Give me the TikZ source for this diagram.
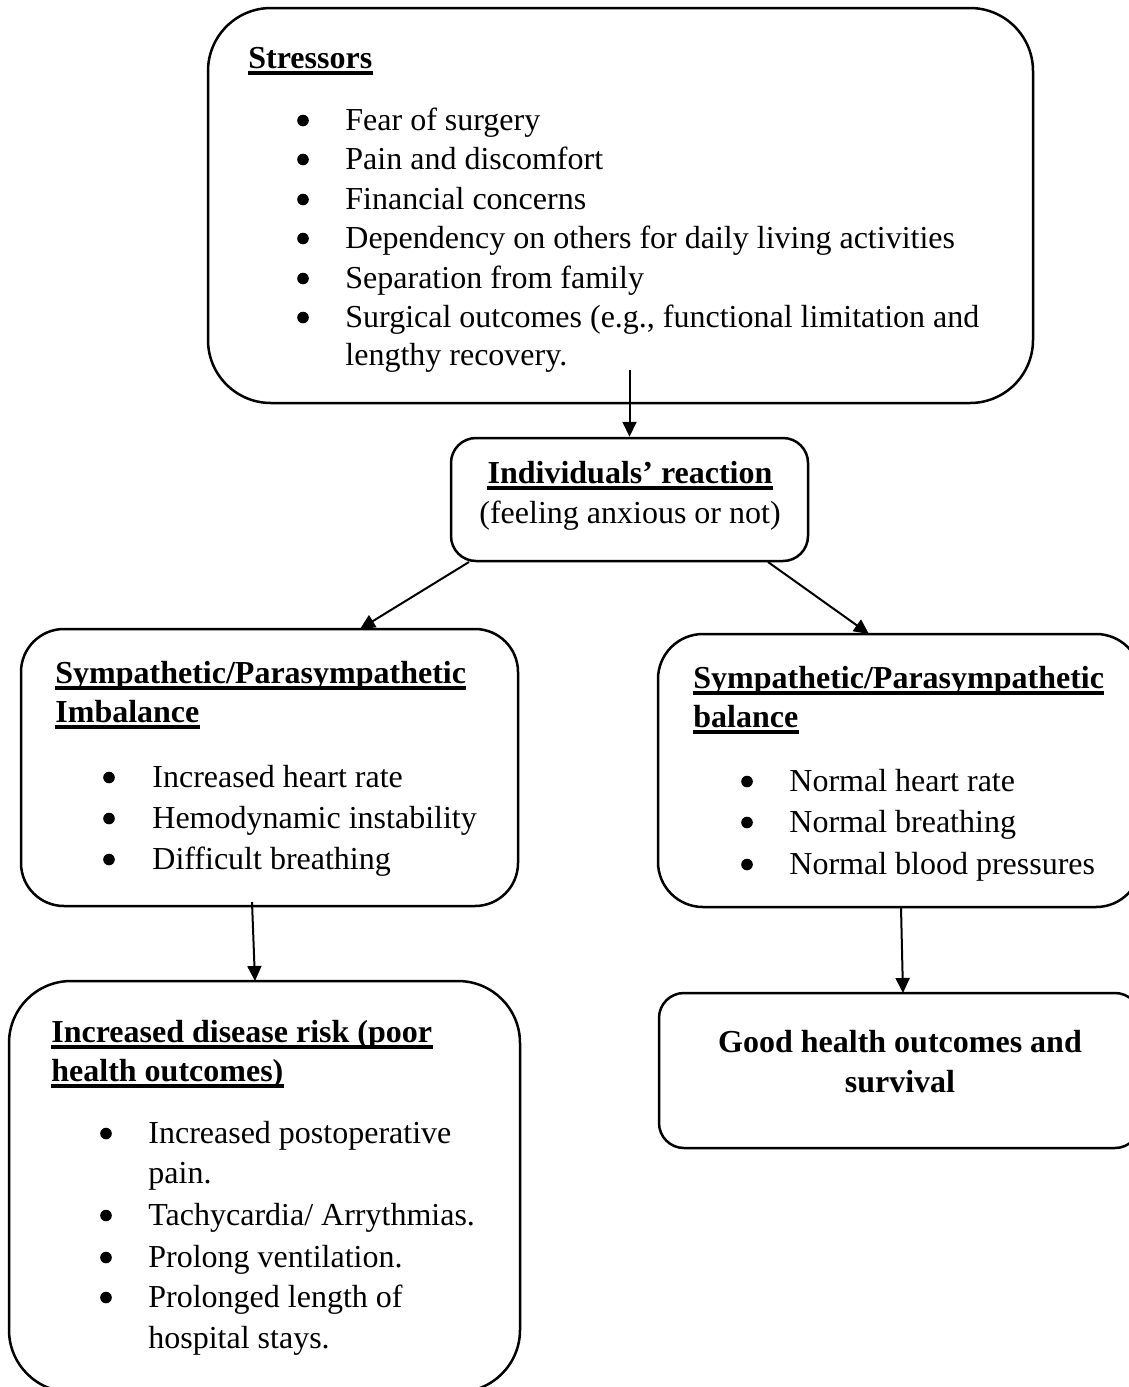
\documentclass[tikz,border=0pt]{standalone}
\usepackage{fontspec}
\setmainfont{Liberation Serif}
\usetikzlibrary{arrows.meta}
\newcommand{\ulnode}[1]{\fill ([yshift=-1.7pt]#1.base west) rectangle ([yshift=-3.7pt]#1.base east);}
\begin{document}
\begin{tikzpicture}[x=0.5pt,y=-0.5pt,
  box/.style={draw, line width=1.25pt, rectangle, inner sep=0pt},
  arr/.style={line width=1pt, -{Triangle[length=7.5pt,width=7pt]}},
  txt/.style={anchor=base west, inner sep=0pt, font=\fontsize{16}{19}\selectfont},
  hdt/.style={anchor=base west, inner sep=0pt, font=\fontsize{16}{19}\selectfont\bfseries},
  ctr/.style={anchor=base, inner sep=0pt, font=\fontsize{16}{19}\selectfont\bfseries},
  ctrn/.style={anchor=base, inner sep=0pt, font=\fontsize{16}{19}\selectfont},
  bul/.style={fill=black}]
\clip (0,0) rectangle (1129,1387);
\fill[white] (0,0) rectangle (1129,1387);

% boxes
\node[box, rounded corners=31.5pt, minimum width=412.5pt, minimum height=197.5pt] (stress) at (620.5,205.5) {};
\node[box, rounded corners=12.5pt, minimum width=178.5pt, minimum height=61.5pt] (react) at (629.5,499.5) {};
\node[box, rounded corners=21.5pt, minimum width=248.5pt, minimum height=138.5pt] (imbal) at (269.5,767.5) {};
\node[box, rounded corners=22.5pt, minimum width=241.5pt, minimum height=136.5pt] (bal) at (899.5,770.5) {};
\node[box, rounded corners=31pt, minimum width=255.5pt, minimum height=205.5pt] (risk) at (264.5,1186.5) {};
\node[box, rounded corners=12.5pt, minimum width=240.5pt, minimum height=77.5pt] (good) at (899.5,1070.5) {};

% Stressors text
\node[hdt] (sh) at (248,68) {Stressors};
\ulnode{sh}
\node[txt] (s1) at (345,130) {Fear of surgery};
\node[txt] (s2) at (345,169) {Pain and discomfort};
\node[txt] (s3) at (345,209) {Financial concerns};
\node[txt] (s4) at (345,248) {Dependency on others for daily living activities};
\node[txt] (s5) at (345,288) {Separation from family};
\node[txt] (s6) at (345,327) {Surgical outcomes (e.g., functional limitation and};
\node[txt] (s7) at (345,365) {lengthy recovery.};
\foreach \yy in {130,169,209,248,288,327} \fill[bul] (303,\yy-9.5) circle (2.9pt);

% Reaction text
\node[ctr] (rh) at (630,483) {Individuals’ reaction};
\ulnode{rh}
\node[ctrn] (rs) at (630,523) {(feeling anxious or not)};

% Imbalance
\node[hdt] (ih1) at (55,683) {Sympathetic/Parasympathetic};
\node[hdt] (ih2) at (55,722) {Imbalance};
\ulnode{ih1}\ulnode{ih2}
\node[txt] (i1) at (152,787) {Increased heart rate};
\node[txt] (i2) at (152,828) {Hemodynamic instability};
\node[txt] (i3) at (152,869) {Difficult breathing};
\foreach \yy in {787,828,869} \fill[bul] (109,\yy-9.5) circle (2.9pt);

% Balance
\node[hdt] (bh1) at (693,688) {Sympathetic/Parasympathetic};
\node[hdt] (bh2) at (693,727) {balance};
\ulnode{bh1}\ulnode{bh2}
\node[txt] (b1) at (789,791) {Normal heart rate};
\node[txt] (b2) at (789,832) {Normal breathing};
\node[txt] (b3) at (789,874) {Normal blood pressures};
\foreach \yy in {791,832,874} \fill[bul] (747,\yy-9.5) circle (2.9pt);

% Risk
\node[hdt] (kh1) at (51,1042) {Increased disease risk (poor};
\node[hdt] (kh2) at (51,1081) {health outcomes)};
\ulnode{kh1}\ulnode{kh2}
\node[txt] (k1) at (148,1143) {Increased postoperative};
\node[txt] (k1b) at (148,1183) {pain.};
\node[txt] (k2) at (148,1225) {Tachycardia/ Arrythmias.};
\node[txt] (k3) at (148,1267) {Prolong ventilation.};
\node[txt] (k4) at (148,1307) {Prolonged length of};
\node[txt] (k4b) at (148,1348) {hospital stays.};
\foreach \yy in {1143,1225,1267,1307} \fill[bul] (106,\yy-9.5) circle (2.9pt);

% Good
\node[ctr] (g1) at (900,1052) {Good health outcomes and};
\node[ctr] (g2) at (900,1092) {survival};

% connectors
\coordinate (c1) at (629.5,370);
\coordinate (c2a) at (469,562);
\coordinate (c2b) at (360,629);
\coordinate (c3a) at (768,562);
\coordinate (c3b) at (869,634);
\coordinate (c4a) at (252,902);
\coordinate (c4b) at (255,981);
\coordinate (c5a) at (901,907);
\coordinate (c5b) at (903,993);
\draw[arr] (c1) -- (react.north);
\draw[arr] (c2a) -- (c2b);
\draw[arr] (c3a) -- (c3b);
\draw[arr] (c4a) -- (c4b);
\draw[arr] (c5a) -- (c5b);
\end{tikzpicture}
\end{document}
